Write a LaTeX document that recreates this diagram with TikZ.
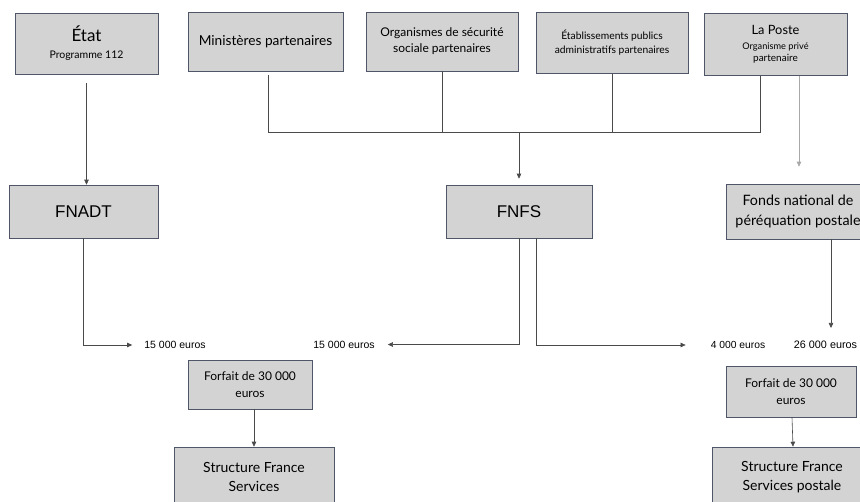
\documentclass[tikz,border=0pt]{standalone}
\usepackage{fontspec}
\setmainfont{Lato}
\newfontfamily\helv{Liberation Sans}
\usetikzlibrary{arrows.meta}
\definecolor{boxfill}{HTML}{D3D3D3}
\definecolor{boxline}{HTML}{4E5668}
\definecolor{lineg}{HTML}{4A4A4A}
\definecolor{lightg}{HTML}{A8A8A8}
\begin{document}
\begin{tikzpicture}[x=1pt,y=-1pt,
  box/.style={draw=boxline,fill=boxfill,line width=0.6pt,align=center,inner sep=2pt},
  conn/.style={draw=lineg,line width=0.6pt},
  arr/.style={conn,-{Triangle[length=5pt,width=4.5pt]}},
  amount/.style={font=\helv\fontsize{10.5}{12}\selectfont,inner sep=1pt}]
\useasboundingbox (0,0) rectangle (860,501);
% top row
\node[box,minimum width=143pt,minimum height=61pt] (etat) at (86.5,43.5)
  {\fontsize{17}{19}\selectfont État\\[5pt]\fontsize{10.5}{12}\selectfont Programme 112};
\node[box,minimum width=155pt,minimum height=59pt,font=\fontsize{13.7}{16}\selectfont] (min) at (265.5,41.5) {Ministères partenaires};
\node[box,minimum width=152pt,minimum height=59pt,font=\fontsize{12}{16}\selectfont] (org) at (442,41.5) {Organismes de sécurité\\sociale partenaires};
\node[box,minimum width=152pt,minimum height=61pt,font=\fontsize{10.3}{13.5}\selectfont] (etab) at (612,42.5) {Établissements publics\\administratifs partenaires};
\node[box,minimum width=143pt,minimum height=62pt] (poste) at (775.5,44)
  {\fontsize{12.8}{15}\selectfont La Poste\\[3pt]\fontsize{9.2}{12}\selectfont Organisme privé\\partenaire};
% middle row
\node[box,minimum width=149pt,minimum height=53pt,font=\helv\fontsize{17}{20}\selectfont] (fnadt) at (83.5,211.5) {FNADT};
\node[box,minimum width=146pt,minimum height=53pt,font=\helv\fontsize{17}{20}\selectfont] (fnfs) at (519,211.5) {FNFS};
\node[box,minimum width=144pt,minimum height=55pt,font=\fontsize{14.3}{19.5}\selectfont] (fonds) at (798,211.5) {Fonds national de\\péréquation postale};
% amounts
\node[amount] (a1) at (175,345) {15 000 euros};
\node[amount] (a2) at (344,344.5) {15 000 euros};
\node[amount,font=\helv\fontsize{10.3}{12}\selectfont] (a3) at (738,345) {4 000 euros};
\node[amount,font=\helv\fontsize{10.8}{12}\selectfont] (a4) at (825.5,345) {26 000 euros};
% bottom
\node[box,minimum width=124pt,minimum height=49pt,font=\fontsize{12}{17}\selectfont] (forfL) at (250,384.5) {Forfait de 30 000\\euros};
\node[box,minimum width=160pt,minimum height=60pt,font=\fontsize{14}{19.5}\selectfont] (structL) at (254,477) {Structure France\\Services};
\node[box,minimum width=130pt,minimum height=51pt,font=\fontsize{12}{17}\selectfont] (forfR) at (791,391.5) {Forfait de 30 000\\euros};
\node[box,minimum width=160pt,minimum height=60pt,font=\fontsize{14}{19.5}\selectfont] (structR) at (792,477) {Structure France\\Services postale};
% coordinates
\coordinate (hb) at (519,132);
\coordinate (hl) at (268,132);
\coordinate (hr) at (760,132);
% connectors
\draw[arr] ([yshift=-9pt]etat.south) -- (etat.south |- fnadt.north);
\draw[conn] ([xshift=2.5pt,yshift=-4pt]min.south) -- (hl) -- (hr) -- ([xshift=-15.5pt,yshift=-1pt]poste.south);
\draw[conn] (org.south) -- (org.south |- hb);
\draw[conn] ([yshift=-0.5pt]etab.south) -- (etab.south |- hb);
\draw[arr] (hb) -- ([yshift=6pt]fnfs.north);
\draw[arr,draw=lightg] ([xshift=23.5pt,yshift=-1pt]poste.south) -- ([xshift=1pt,yshift=17pt]fonds.north);
\draw[arr] (fnadt.south -| 83,0) |- ([xshift=-11pt]a1.west);
\draw[arr] (fnfs.south) |- ([xshift=12pt]a2.east);
\draw[arr] ([xshift=17pt]fnfs.south) |- ([xshift=-24pt]a3.west);
\draw[arr] ([xshift=33pt]fonds.south) -- ([xshift=5.5pt,yshift=12pt]a4.north);
\draw[arr] ([xshift=4pt]forfL.south) -- (structL.north);
\draw[arr] ([xshift=1pt]forfR.south) -- ([xshift=1pt]structR.north);
\end{tikzpicture}
\end{document}
